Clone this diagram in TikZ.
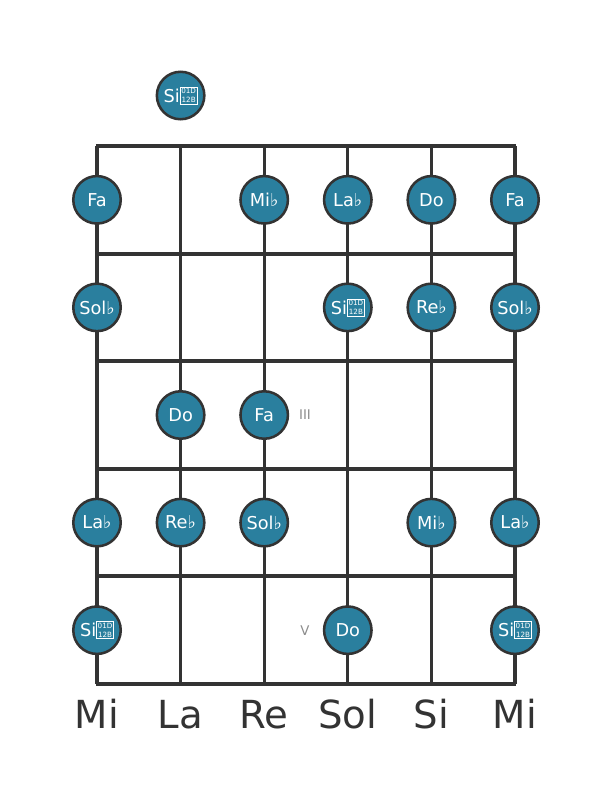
\documentclass[tikz,border=0pt]{standalone}
\usepackage{fontspec}
\setmainfont{DejaVu Sans}
\usepackage{tikz}

\definecolor{notefill}{HTML}{2A7F9E}
\definecolor{boardline}{HTML}{333333}

% missing glyph box for the double flat
\newcommand{\dflatbox}{\raisebox{-0.6pt}{\setlength\fboxsep{0.6pt}\setlength\fboxrule{0.5pt}\fbox{\fontsize{5.4}{5.6}\selectfont\shortstack{01D\\12B}}}}

\tikzset{
  notedot/.style={circle, draw=boardline, line width=1.9pt, fill=notefill, minimum size=35.6pt, inner sep=0pt, text=white, font=\fontsize{13.3}{13}\selectfont},
  fretline/.style={draw=boardline, line width=3pt},
  stringline/.style={draw=boardline, line width=2.3pt},
  openname/.style={anchor=base, text=boardline, font=\fontsize{29}{29}\selectfont},
  posmark/.style={text=gray!90, font=\fontsize{10}{10}\selectfont}
}

\begin{document}
\begin{tikzpicture}[x=0.75pt,y=0.75pt,yscale=-1,xscale=1]
\useasboundingbox (0,0) rectangle (611,801);

%Strings
\draw [stringline] (97,146) -- (97,684) ;
\draw [stringline] (180.6,146) -- (180.6,684) ;
\draw [stringline] (264.2,146) -- (264.2,684) ;
\draw [stringline] (347.8,146) -- (347.8,684) ;
\draw [stringline] (431.4,146) -- (431.4,684) ;
\draw [stringline] (515,146) -- (515,684) ;
%Frets
\draw [fretline] (95.9,146) -- (516.1,146) ;
\draw [fretline] (95.9,253.6) -- (516.1,253.6) ;
\draw [fretline] (95.9,361.2) -- (516.1,361.2) ;
\draw [fretline] (95.9,468.8) -- (516.1,468.8) ;
\draw [fretline] (95.9,576.4) -- (516.1,576.4) ;
\draw [fretline] (95.9,684) -- (516.1,684) ;

% open string note
\node [notedot] (open2) at (180.6,95.5) {Si\dflatbox};

% fret 1
\node [notedot] (f1s1) at (97,199.8) {Fa};
\node [notedot] (f1s3) at (264.2,199.8) {Mi♭};
\node [notedot] (f1s4) at (347.8,199.8) {La♭};
\node [notedot] (f1s5) at (431.4,199.8) {Do};
\node [notedot] (f1s6) at (515,199.8) {Fa};
% fret 2
\node [notedot] (f2s1) at (97,307.4) {Sol♭};
\node [notedot] (f2s4) at (347.8,307.4) {Si\dflatbox};
\node [notedot] (f2s5) at (431.4,307.4) {Re♭};
\node [notedot] (f2s6) at (515,307.4) {Sol♭};
% fret 3
\node [notedot] (f3s2) at (180.6,415) {Do};
\node [notedot] (f3s3) at (264.2,415) {Fa};
\node [posmark] (mark3) at (305,415) {III};
% fret 4
\node [notedot] (f4s1) at (97,522.6) {La♭};
\node [notedot] (f4s2) at (180.6,522.6) {Re♭};
\node [notedot] (f4s3) at (264.2,522.6) {Sol♭};
\node [notedot] (f4s5) at (431.4,522.6) {Mi♭};
\node [notedot] (f4s6) at (515,522.6) {La♭};
% fret 5
\node [notedot] (f5s1) at (97,630.2) {Si\dflatbox};
\node [posmark] (mark5) at (305,630.2) {V};
\node [notedot] (f5s4) at (347.8,630.2) {Do};
\node [notedot] (f5s6) at (515,630.2) {Si\dflatbox};

% Text Node
\node [openname] (name1) at (97,728) {Mi};
\node [openname] (name2) at (180.6,728) {La};
\node [openname] (name3) at (264.2,728) {Re};
\node [openname] (name4) at (347.8,728) {Sol};
\node [openname] (name5) at (431.4,728) {Si};
\node [openname] (name6) at (515,728) {Mi};

\end{tikzpicture}
\end{document}
